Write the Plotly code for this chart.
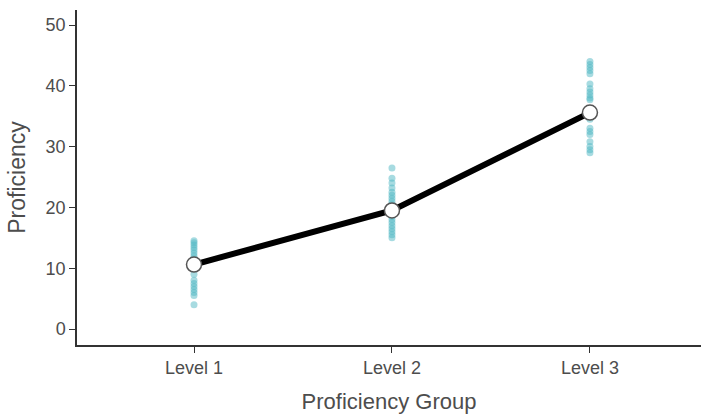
import plotly.graph_objects as go

categories = ["Level 1", "Level 2", "Level 3"]
group_means = [10.6, 19.5, 35.6]
level1_scores = [14.5, 14.2, 13.8, 13.4, 13.0, 12.5, 12.0, 11.5, 10.0, 9.0, 8.0, 7.5, 7.0, 6.5, 6.0, 5.5, 4.0]
level2_scores = [26.5, 24.8, 24.0, 23.2, 22.5, 22.0, 21.5, 21.0, 20.5, 19.0, 18.5, 18.0, 17.5, 17.0, 16.5, 16.0, 15.5, 15.0]
level3_scores = [44.0, 43.5, 43.0, 42.5, 42.0, 40.3, 39.5, 39.0, 38.5, 38.0, 37.7, 35.0, 34.5, 33.0, 32.5, 32.0, 30.8, 30.0, 29.5, 29.0]
y_ticks = [0, 10, 20, 30, 40, 50]

FONT = "Liberation Sans, Arial, sans-serif"

fig = go.Figure()
for cat, scores in zip(categories, [level1_scores, level2_scores, level3_scores]):
    fig.add_trace(go.Scatter(
        x=[cat] * len(scores), y=scores, mode="markers",
        marker=dict(size=7, color="rgba(80,184,196,0.5)", line=dict(width=0)),
        showlegend=False, hoverinfo="y"))

fig.add_trace(go.Scatter(
    x=categories, y=group_means, mode="lines+markers",
    line=dict(color="black", width=6),
    marker=dict(size=15, color="white", line=dict(color="#555555", width=1.5)),
    showlegend=False))

axis_common = dict(
    showline=True, linecolor="#333333", linewidth=1.5,
    ticks="outside", ticklen=6, tickwidth=1.2, tickcolor="#333333",
    showgrid=False, zeroline=False,
    tickfont=dict(family=FONT, size=18, color="#4d4d4d"),
)

fig.update_layout(
    width=701, height=417,
    margin=dict(l=77, r=0, t=10, b=72),
    paper_bgcolor="white", plot_bgcolor="white",
    xaxis=dict(**axis_common, type="category", range=[-0.591, 2.561],
               title=dict(text="Proficiency Group", standoff=16,
                          font=dict(family=FONT, size=22, color="#4d4d4d"))),
    yaxis=dict(**axis_common, range=[-2.63, 52.47], tickvals=y_ticks,
               title=dict(text="Proficiency", standoff=14,
                          font=dict(family=FONT, size=23, color="#4d4d4d"))),
)

fig.write_html("out.html", config={"displayModeBar": False},
               post_script="document.body.style.margin='0';")
